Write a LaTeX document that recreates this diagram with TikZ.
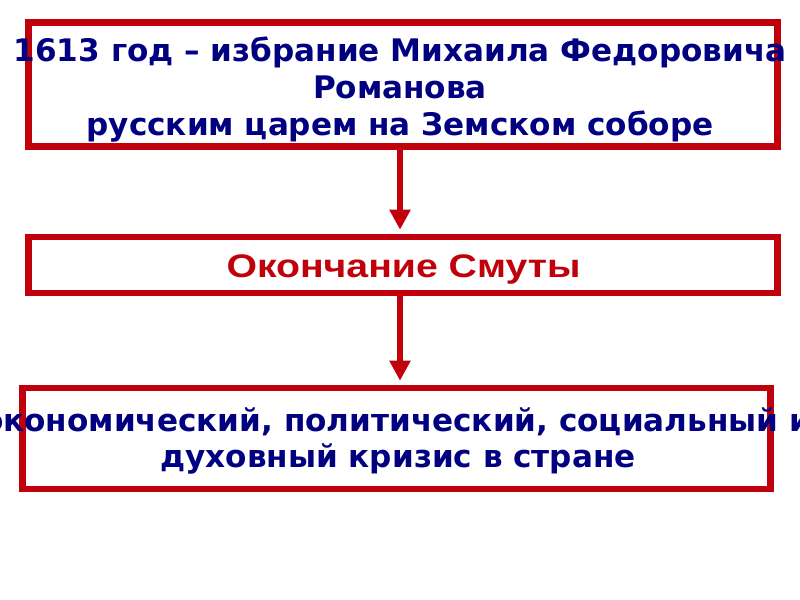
\documentclass[tikz,border=0pt]{standalone}
\usepackage{fontspec}
\setmainfont{DejaVu Sans}
\newfontfamily\arialfont{Liberation Sans}[FakeStretch=1.2]
\usetikzlibrary{arrows.meta}
\definecolor{boxred}{RGB}{192,0,10}
\definecolor{navyblue}{RGB}{0,0,128}
\definecolor{titlered}{RGB}{192,0,10}
\begin{document}
\begin{tikzpicture}[x=0.75pt,y=-0.75pt,
  framebox/.style={draw=boxred, line width=4.9pt, inner sep=0pt},
  bluetext/.style={font=\bfseries\fontsize{23.3}{27.5}\selectfont, text=navyblue, align=center, inner sep=0pt},
  redtext/.style={font=\arialfont\bfseries\fontsize{24.5}{28}\selectfont, text=titlered, inner sep=0pt},
  flowarrow/.style={draw=boxred, line width=4pt, -{Triangle[width=15pt,length=15pt]}, shorten >=3pt}]
\useasboundingbox (0,0) rectangle (800,600);
\clip (0,0) rectangle (800,600);
\fill[white] (0,0) rectangle (800,600);
\node[framebox, minimum width=561.75pt, minimum height=93pt] (b1) at (403,84.5) {};
\node[framebox, minimum width=561.75pt, minimum height=42pt] (b2) at (403,265) {};
\node[framebox, minimum width=561pt, minimum height=75.75pt] (b3) at (396.5,438.5) {};
\draw[flowarrow] ([xshift=-2.25pt]b1.south) -- ([xshift=-2.25pt]b2.north);
\draw[flowarrow] ([xshift=-2.25pt]b2.south) -- ([xshift=2.625pt]b3.north);
\node[bluetext] (t1) at (400,89.5) {1613 год – избрание Михаила Федоровича\\Романова\\русским царем на Земском соборе};
\node[redtext, anchor=base] (t2) at (403.5,277) {Окончание Смуты};
\node[bluetext] (t3) at (398,441) {экономический, политический, социальный и\\духовный кризис в стране};
\end{tikzpicture}
\end{document}
